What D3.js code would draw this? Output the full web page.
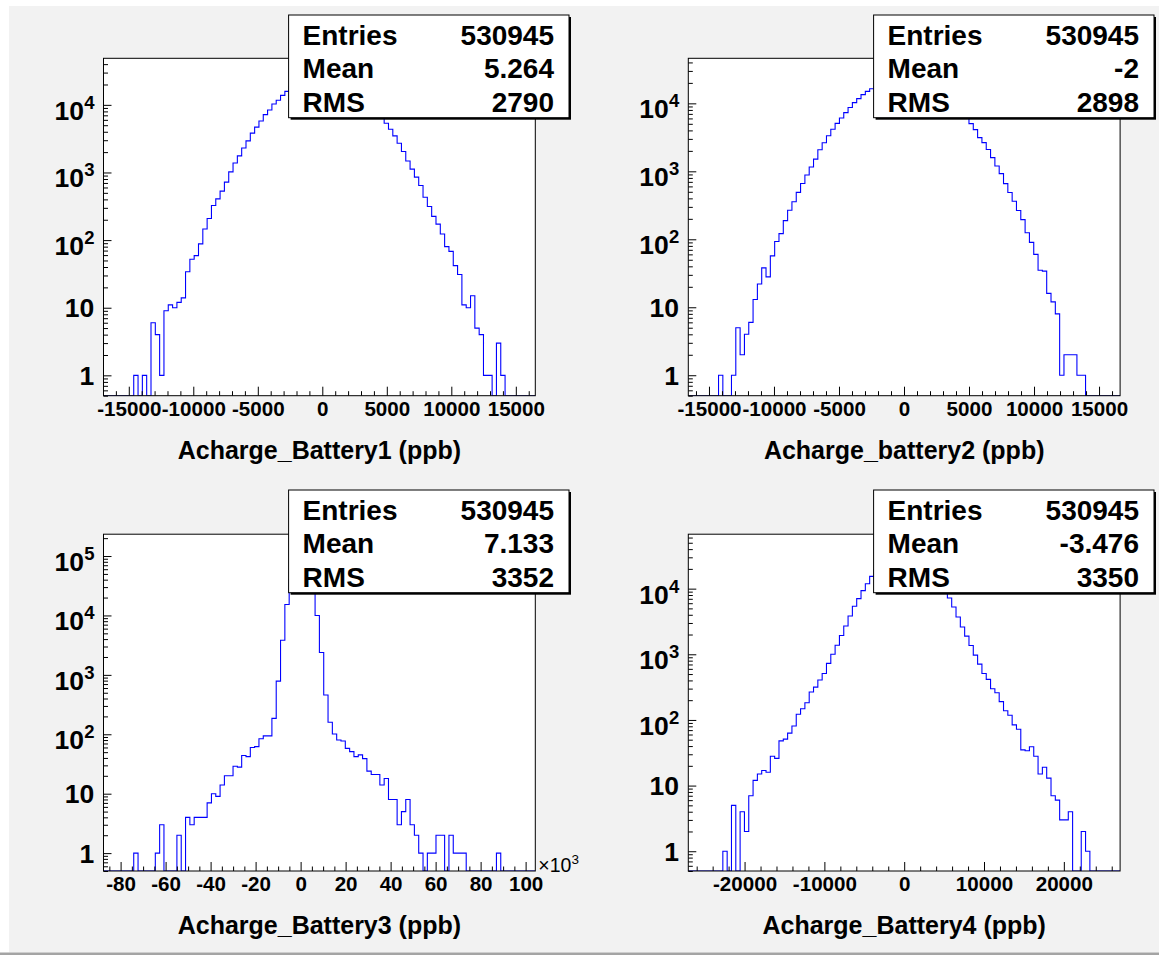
<!DOCTYPE html>
<html><head><meta charset="utf-8">
<script src="https://cdn.jsdelivr.net/npm/d3@7"></script>
<style>body{margin:0;background:#fff}svg{display:block}</style>
</head><body>
<svg id="c" width="1159" height="955"></svg>
<script>
// ---------------- data ----------------
const titles = ["Acharge_Battery1 (ppb)", "Acharge_battery2 (ppb)", "Acharge_Battery3 (ppb)", "Acharge_Battery4 (ppb)"];
const statLabels = ["Entries", "Mean", "RMS"];
const entries = ["530945", "530945", "530945", "530945"];
const means = ["5.264", "-2", "7.133", "-3.476"];
const rmsVals = ["2790", "2898", "3352", "3350"];
const xRanges = [[-16960, 16510], [-16590, 16620], [-87600, 104300], [-27050, 27050]];
const yRanges = [[0.5, 48800], [0.5, 46000], [0.5, 233000], [0.5, 67500]];
const xTickLabels1 = [-15000, -10000, -5000, 0, 5000, 10000, 15000];
const xTickLabels2 = [-15000, -10000, -5000, 0, 5000, 10000, 15000];
const xTickLabels3 = [-80, -60, -40, -20, 0, 20, 40, 60, 80, 100]; // x10^3
const xTickLabels4 = [-20000, -10000, 0, 10000, 20000];
const xMinorSteps = [1000, 1000, 5000, 2000];
const yDecades1 = [1, 10, 100, 1000, 10000];
const yDecades3 = [1, 10, 100, 1000, 10000, 100000];

const counts1 = [0,0,0,0,0,0,0,1,0,1,
 0,6,4,1,9,11,10,12,14,34,
 52,59,88,146,209,325,407,530,720,1020,
 1380,1760,2300,2930,3820,4680,5780,7170,8410,10300,
 11700,13800,15800,18700,20600,22300,23800,25000,25900,26400,
 26500,26200,25600,24700,23500,22000,20400,18600,16800,14900,
 13100,11400,9700,8200,6800,5350,4360,3480,2710,2040,
 1480,1120,853,642,431,314,224,172,123,80,
 68,42,31,11,10,15,5,4,1,1,
 0,3,1,0,0,0,0,0,0,0];
const counts2 = [0,0,0,0,0,0,0,1,0,0,
 1,5,2,4,6,13,22,38,28,57,
 93,121,188,268,357,490,662,883,1160,1510,
 2080,2630,3330,4150,5080,6080,7300,8710,10240,11740,
 13440,15000,16430,17540,18970,20280,21400,22310,22980,23380,
 23500,23330,22880,22170,21210,20050,18730,17270,15710,14160,
 12600,11070,9300,7800,6500,5030,4100,3130,2640,2090,
 1590,1200,925,660,487,362,265,195,125,90,
 60,35,34,16,12,8,1,2,2,2,
 1,1,0,0,0,0,0,0,0,0];
const counts3 = [0,0,0,0,0,0,0,1,0,0,
 0,0,1,3,0,0,0,2,0,4,
 3,4,4,4,7,10,9,14,20,20,
 29,28,44,42,60,62,84,94,94,185,
 784,3820,15300,40000,90000,125000,120000,85000,33000,10000,
 2380,457,159,101,80,77,58,51,42,45,
 39,24,21,21,14,18,8,8,3,5,
 8,3,2,1,0,1,1,2,2,0,
 2,1,1,1,0,0,0,0,0,0,
 0,1,0,0,0,0,0,0,0,0];
const counts4 = [0,0,0,0,0,0,0,0,1,0,
 5,0,4,2,7,12,15,17,16,28,
 26,48,51,63,81,122,148,183,266,316,
 405,511,726,1004,1376,1930,2700,3830,5390,7050,
 9330,11900,15400,19300,23400,27500,31300,34500,36800,38000,
 38000,36900,34800,31900,28400,24500,20500,16700,13200,10100,
 7190,5260,3700,2610,1890,1362,970,709,511,415,
 299,260,190,138,118,84,72,35,34,39,
 28,15,19,13,7,6,3,3,4,0,
 0,2,1,0,0,0,0,0,0,0];

// ---------------- layout ----------------
const FONT = "'Liberation Sans', Arial, Helvetica, sans-serif";
const layout = [
  {x0:103.5, x1:535.3, y0:58.3, y1:395.7, bx:288.6, by:15},
  {x0:688.3, x1:1120.1, y0:58.3, y1:395.7, bx:873.6, by:15},
  {x0:103.5, x1:535.3, y0:534.2, y1:871, bx:288.6, by:490},
  {x0:688.3, x1:1120.1, y0:534.2, y1:871, bx:873.6, by:490}
];
const panels = [
  {counts:counts1, xt:xTickLabels1, yd:yDecades1, xmul:1},
  {counts:counts2, xt:xTickLabels2, yd:yDecades1, xmul:1},
  {counts:counts3, xt:xTickLabels3, yd:yDecades3, xmul:1000},
  {counts:counts4, xt:xTickLabels4, yd:yDecades1, xmul:1}
];

const svg = d3.select("#c");
svg.append("rect").attr("x",9).attr("y",6).attr("width",1150).attr("height",946.5).attr("fill","#f2f2f2");
svg.append("rect").attr("x",0).attr("y",952.5).attr("width",1159).attr("height",2.5).attr("fill","#a4a4a4");

panels.forEach((p, k) => {
  const L = layout[k];
  const g = svg.append("g");
  const xs = d3.scaleLinear().domain(xRanges[k]).range([L.x0, L.x1]);
  const ys = d3.scaleLog().domain(yRanges[k]).range([L.y1, L.y0]);

  g.append("rect").attr("x",L.x0).attr("y",L.y0).attr("width",L.x1-L.x0).attr("height",L.y1-L.y0).attr("fill","#fff");

  const clipId = "clip"+k;
  g.append("clipPath").attr("id",clipId).append("rect")
    .attr("x",L.x0).attr("y",L.y0).attr("width",L.x1-L.x0).attr("height",L.y1-L.y0);
  const n = p.counts.length;
  const [xmin, xmax] = xRanges[k];
  const bw = (xmax - xmin) / n;
  const pts = [[xs(xmin), L.y1]];
  p.counts.forEach((c, i) => {
    const yy = c > 0 ? ys(c) : L.y1;
    pts.push([xs(xmin + i*bw), yy]);
    pts.push([xs(xmin + (i+1)*bw), yy]);
  });
  pts.push([xs(xmax), L.y1]);
  g.append("path").attr("clip-path","url(#"+clipId+")")
    .attr("d", d3.line()(pts)).attr("fill","none").attr("stroke","#0000ff").attr("stroke-width",1.1);

  const majorVals = p.xt.map(v => v * p.xmul);
  const axX = d3.axisBottom(xs).tickValues(majorVals).tickSizeInner(-9).tickSizeOuter(0).tickPadding(5.4)
    .tickFormat(v => String(Math.round(v / p.xmul)));
  const gx = g.append("g").attr("transform","translate(0,"+L.y1+")").call(axX);
  gx.select(".domain").remove();
  gx.selectAll("line").attr("stroke","#000");
  gx.selectAll("text").attr("font-family",FONT).attr("font-weight","bold").attr("font-size",20.6).attr("fill","#000");
  const st = xMinorSteps[k];
  const minors = d3.range(Math.ceil(xmin/st)*st, xmax, st).filter(v => !majorVals.includes(v));
  const axXm = d3.axisBottom(xs).tickValues(minors).tickSizeInner(-4.5).tickSizeOuter(0).tickFormat("");
  const gxm = g.append("g").attr("transform","translate(0,"+L.y1+")").call(axXm);
  gxm.select(".domain").remove();
  gxm.selectAll("line").attr("stroke","#000");

  const axY = d3.axisLeft(ys).tickValues(p.yd).tickSizeInner(-8).tickSizeOuter(0).tickFormat("");
  const gy = g.append("g").attr("transform","translate("+L.x0+",0)").call(axY);
  gy.select(".domain").remove();
  gy.selectAll("line").attr("stroke","#000");
  const [ylo, yhi] = yRanges[k];
  const yMinors = [];
  for (let d = 0.1; d <= yhi; d *= 10) {
    for (let m = 2; m <= 9; m++) { const v = m*d; if (v >= ylo && v <= yhi) yMinors.push(v); }
  }
  const axYm = d3.axisLeft(ys).tickValues(yMinors).tickSizeInner(-4.5).tickSizeOuter(0).tickFormat("");
  const gym = g.append("g").attr("transform","translate("+L.x0+",0)").call(axYm);
  gym.select(".domain").remove();
  gym.selectAll("line").attr("stroke","#000");

  p.yd.forEach(v => {
    const yy = ys(v);
    const e = Math.round(Math.log10(v));
    if (e >= 2) {
      g.append("text").attr("x", L.x0 - 19.5).attr("y", yy + 15)
        .attr("text-anchor","end").attr("font-family",FONT).attr("font-weight","bold").attr("font-size",26.5).text("10");
      g.append("text").attr("x", L.x0 - 19.3).attr("y", yy + 4)
        .attr("font-family",FONT).attr("font-weight","bold").attr("font-size",18.5).text(String(e));
    } else {
      g.append("text").attr("x", L.x0 - 9.3).attr("y", yy + 9.4)
        .attr("text-anchor","end").attr("font-family",FONT).attr("font-weight","bold").attr("font-size",26.5).text(String(v));
    }
  });

  if (p.xmul === 1000) {
    const t = g.append("text").attr("x", L.x1 + 3).attr("y", L.y1 + 0.5)
      .attr("font-family",FONT).attr("font-size",19.5).attr("fill","#000");
    t.append("tspan").text("\u00d710");
    t.append("tspan").attr("dy",-8).attr("font-size",13.5).text("3");
  }

  g.append("rect").attr("x",L.x0).attr("y",L.y0).attr("width",L.x1-L.x0).attr("height",L.y1-L.y0)
    .attr("fill","none").attr("stroke","#000").attr("stroke-width",1);

  g.append("text").attr("x",(L.x0+L.x1)/2).attr("y",L.y1+63.3).attr("text-anchor","middle")
    .attr("font-family",FONT).attr("font-weight","bold").attr("font-size",25).text(titles[k]);

  const bw2 = 280.4, bh = 102.7;
  g.append("rect").attr("x",L.bx+2).attr("y",L.by+2).attr("width",bw2).attr("height",bh).attr("fill","#000");
  g.append("rect").attr("x",L.bx).attr("y",L.by).attr("width",bw2).attr("height",bh)
    .attr("fill","#fff").attr("stroke","#000").attr("stroke-width",1);
  const vals = [entries[k], means[k], rmsVals[k]];
  statLabels.forEach((lab, r) => {
    const yb = L.by + 30 + r*33.4;
    g.append("text").attr("x",L.bx+14).attr("y",yb).attr("font-family",FONT).attr("font-weight","bold")
      .attr("font-size",28).text(lab);
    g.append("text").attr("x",L.bx+bw2-15).attr("y",yb).attr("text-anchor","end").attr("font-family",FONT)
      .attr("font-weight","bold").attr("font-size",28).text(vals[r]);
  });
});
</script>
</body></html>
